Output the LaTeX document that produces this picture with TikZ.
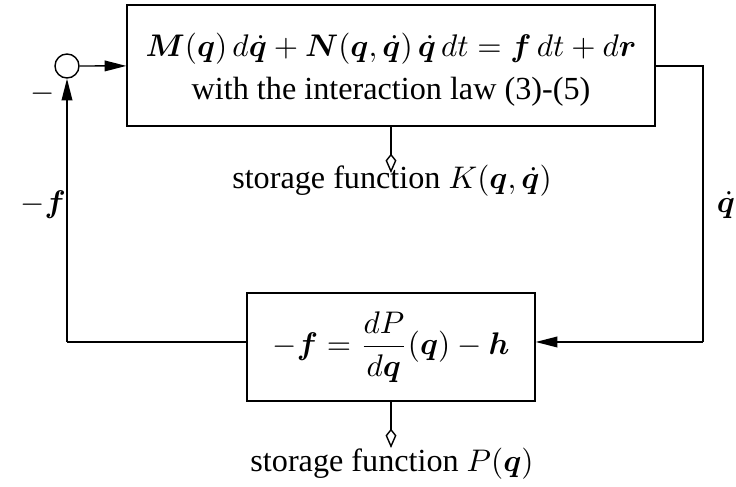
\documentclass[tikz,border=0pt]{standalone}
\usepackage{amsmath}
\usepackage{bm}
\usepackage{fontspec}
\setmainfont{Liberation Serif}
\usetikzlibrary{arrows.meta}
\tikzset{
  blk/.style={draw, line width=0.45pt, inner sep=0pt},
  sumnode/.style={draw, circle, line width=0.45pt, minimum size=7.68pt, inner sep=0pt},
  wire/.style={line width=0.45pt},
  sig/.style={wire, -{Triangle[length=6.9pt, width=3.4pt]}},
  store/.style={wire, -{Kite[open, length=6.2pt, width=3.5pt, inset=2.2pt]}},
  lbl/.style={inner sep=0pt, font=\fontsize{10.3}{12.4}\selectfont},
}
\begin{document}
\begin{tikzpicture}[x=0.32pt, y=-0.32pt]
\useasboundingbox (0,0) rectangle (736,487);
% blocks
\node[sumnode] (sum) at (67,66) {};
\node[blk, minimum width=168.96pt, minimum height=38.72pt] (top) at (391,65.5) {};
\node[lbl, anchor=base] (topeq) at (391,57) {$\bm{M}(\bm{q})\,d\dot{\bm{q}}+\bm{N}(\bm{q},\dot{\bm{q}})\,\dot{\bm{q}}\,dt=\bm{f}\,dt+d\bm{r}$};
\node[lbl, anchor=base] (toptxt) at (391,100) {with the interaction law (3)-(5)};
\node[blk, minimum width=92.16pt, minimum height=34.56pt] (bot) at (391,347) {};
\node[lbl] (boteq) at (391,347) {$-\bm{f}=\dfrac{dP}{d\bm{q}}(\bm{q})-\bm{h}$};
% corners
\coordinate (r1) at (703,66);
\coordinate (r2) at (703,342);
\coordinate (l1) at (67,342);
\coordinate (kt) at (391,173);
\coordinate (pt) at (391,448);
% connectors
\draw[sig] (sum) -- (top);
\draw[wire] (top.east |- r1) -- (r1) -- (r2);
\draw[sig] (r2) -- (bot.east |- r2);
\draw[wire] (bot.west |- l1) -- (l1);
\draw[sig] (l1) -- (sum.south);
\draw[store] (top.south) -- (kt);
\draw[store] (bot.south) -- (pt);
% labels
\node[lbl] (minus) at (43,94) {$-$};
\node[lbl] (flbl) at (43,205) {$-\bm{f}$};
\node[lbl] (qlbl) at (726,205) {$\dot{\bm{q}}$};
\node[lbl, anchor=base] (klbl) at (392,189) {storage function $K(\bm{q},\dot{\bm{q}})$};
\node[lbl, anchor=base] (plbl) at (392,472) {storage function $P(\bm{q})$};
\end{tikzpicture}
\end{document}
